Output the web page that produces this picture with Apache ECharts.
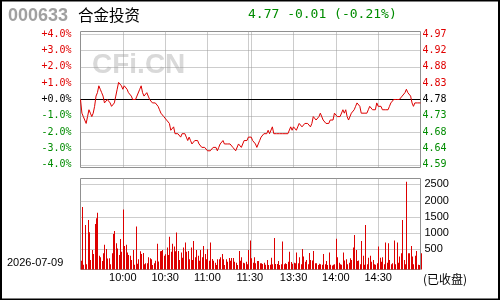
<!DOCTYPE html>
<html><head><meta charset="utf-8">
<script src="https://cdn.jsdelivr.net/npm/echarts@6/dist/echarts.min.js"></script>
<style>html,body{margin:0;padding:0;background:#fff}#c{width:500px;height:300px}</style>
</head><body><div id="c"></div>
<script>
const stockCode = '000633';
const stockName = '合金投资';
const quoteText = '4.77 -0.01 (-0.21%)';
const watermark = 'CFi.CN';
const tradeDate = '2026-07-09';
const statusText = '(已收盘)';
const prevClose = 4.78;
const pctTicks = [-4, -3, -2, -1, 0, 1, 2, 3, 4];
const volTicks = [500, 1000, 1500, 2000, 2500];
const timeTicks = ['10:00', '10:30', '11:00', '11:30', '13:30', '14:00', '14:30'];
const gridTimes = ['10:00', '10:30', '11:00', '11:29', '13:00', '13:30', '14:00', '14:30'];
const sessions = [['09:30', '11:30'], ['13:00', '15:00']];

const prices = [
4.78,4.74,4.73,4.72,4.71,4.73,4.75,4.74,4.73,4.74,
4.76,4.79,4.80,4.82,4.81,4.80,4.79,4.77,4.77,4.78,
4.78,4.77,4.76,4.76,4.77,4.79,4.81,4.83,4.83,4.82,
4.81,4.82,4.82,4.81,4.80,4.80,4.79,4.78,4.78,4.78,
4.79,4.79,4.81,4.82,4.80,4.79,4.79,4.80,4.79,4.78,
4.78,4.77,4.77,4.77,4.77,4.76,4.75,4.74,4.74,4.73,
4.73,4.72,4.72,4.71,4.69,4.69,4.70,4.68,4.68,4.68,
4.68,4.67,4.68,4.68,4.68,4.67,4.66,4.67,4.66,4.65,
4.65,4.66,4.66,4.66,4.65,4.65,4.64,4.64,4.64,4.64,
4.63,4.63,4.63,4.63,4.64,4.64,4.64,4.63,4.64,4.65,
4.65,4.66,4.65,4.65,4.65,4.65,4.65,4.65,4.64,4.64,
4.63,4.63,4.65,4.65,4.64,4.65,4.66,4.66,4.66,4.67,
4.67,4.67,4.66,4.66,4.65,4.64,4.65,4.66,4.67,4.67,
4.68,4.68,4.68,4.69,4.68,4.68,4.70,4.68,4.68,4.68,
4.68,4.68,4.68,4.68,4.68,4.68,4.68,4.68,4.68,4.70,
4.69,4.70,4.70,4.69,4.70,4.71,4.71,4.70,4.70,4.71,
4.71,4.71,4.71,4.70,4.71,4.73,4.73,4.72,4.72,4.73,
4.74,4.74,4.72,4.72,4.71,4.71,4.71,4.72,4.72,4.72,
4.74,4.74,4.73,4.73,4.73,4.73,4.75,4.74,4.75,4.73,
4.72,4.72,4.74,4.74,4.75,4.76,4.77,4.77,4.76,4.74,
4.74,4.74,4.74,4.74,4.75,4.76,4.76,4.75,4.75,4.75,
4.77,4.76,4.76,4.76,4.75,4.75,4.75,4.75,4.75,4.76,
4.77,4.77,4.78,4.78,4.78,4.78,4.78,4.78,4.79,4.79,
4.80,4.81,4.80,4.80,4.79,4.77,4.76,4.77,4.77,4.77,
4.77,4.77
];

const volumes = [
150,1800,30,1250,40,1400,1030,175,480,360,
1280,1460,1630,300,260,145,380,640,510,215,
225,40,380,975,1065,690,530,330,820,430,
1730,600,640,400,330,300,175,480,30,1200,
60,195,440,360,390,40,70,70,260,225,
195,20,70,150,670,130,440,450,480,300,
350,560,330,890,430,670,585,440,1015,450,
175,400,245,555,710,430,450,195,555,175,
760,260,480,300,150,480,260,605,360,195,
500,150,710,205,150,90,20,195,195,260,
360,195,20,195,120,235,150,235,235,120,
90,20,450,150,260,90,70,120,40,480,
770,225,90,255,70,145,145,70,70,50,
90,30,175,20,30,245,40,850,50,50,
145,20,40,740,40,70,50,120,430,110,
60,90,70,400,70,255,40,510,280,120,
175,40,390,175,155,450,70,70,20,60,
40,30,360,40,145,20,400,30,0,30,
40,830,255,90,40,30,400,155,195,40,
90,225,175,555,940,480,145,155,40,760,
300,30,1250,40,245,300,120,175,40,30,
70,585,245,120,255,40,710,90,690,175,
40,70,770,40,710,90,280,380,1400,175,
40,2580,380,380,605,280,40,300,450,30,
20,380
];

function buildTimes() {
  const out = [];
  sessions.forEach(function (s) {
    const a = s[0].split(':').map(Number), b = s[1].split(':').map(Number);
    for (let m = a[0] * 60 + a[1]; m <= b[0] * 60 + b[1]; m++) {
      const h = Math.floor(m / 60), mm = m % 60;
      out.push((h < 10 ? '0' : '') + h + ':' + (mm < 10 ? '0' : '') + mm);
    }
  });
  return out;
}
const times = buildTimes();

const RED = '#e00000', GREEN = '#008c00', LINE = '#dd0000';
const monoFont = 'DejaVu Sans Mono';
const vGridStyle = { color: '#9a9a9a', type: [1, 1], width: 1 };
const H_COLOR = '#9a9a9a';

const L = 80.5, W = 340;
const P_TOP = 31.5, P_H = 136, pctRange = 4.16;
const V_TOP = 178.5, V_H = 91, volMin = -120, volMax = 2680;

const chart = echarts.init(document.getElementById('c'), null, { renderer: 'canvas' });
const priceTicks = pctTicks.map(function (k) { return prevClose * (1 + k / 100); });
const priceGrid = priceTicks.filter(function (p, i) { return pctTicks[i] !== 0; });

// horizontal guide line drawn through the axis scale of the series' own grid
function hLineItem(params, api) {
  const y = Math.round(api.coord([0, api.value(0)])[1]) + 0.5;
  const cs = params.coordSys;
  return {
    type: 'line',
    shape: { x1: cs.x, y1: y, x2: cs.x + cs.width, y2: y },
    style: { stroke: H_COLOR, lineWidth: 1, lineDash: [1, 1] }
  };
}

const option = {
  animation: false,
  backgroundColor: '#fff',
  grid: [
    { left: L, top: P_TOP, width: W, height: P_H, show: true, borderColor: '#909090', borderWidth: 1, backgroundColor: 'transparent' },
    { left: L, top: V_TOP, width: W, height: V_H, show: true, borderColor: '#909090', borderWidth: 1, backgroundColor: 'transparent' }
  ],
  xAxis: [
    { type: 'category', gridIndex: 0, data: times, boundaryGap: false,
      axisLine: { show: false }, axisTick: { show: false }, axisLabel: { show: false },
      splitLine: { show: true, interval: function (i, v) { return gridTimes.indexOf(v) >= 0; }, lineStyle: vGridStyle } },
    { type: 'category', gridIndex: 1, data: times, boundaryGap: false,
      axisLine: { show: false }, axisTick: { show: false },
      axisLabel: { show: true, interval: function (i, v) { return timeTicks.indexOf(v) >= 0; },
        color: '#000', fontFamily: 'Liberation Sans', fontSize: 11, margin: 3 },
      splitLine: { show: true, interval: function (i, v) { return gridTimes.indexOf(v) >= 0; }, lineStyle: vGridStyle } }
  ],
  yAxis: [
    { type: 'value', gridIndex: 0, position: 'left', min: -pctRange, max: pctRange,
      axisLine: { show: false }, axisTick: { show: false }, splitLine: { show: false },
      axisLabel: { customValues: pctTicks, margin: 9, fontFamily: monoFont, fontSize: 10,
        formatter: function (v) { return (v >= 0 ? '+' : '') + Number(v).toFixed(1) + '%'; },
        color: function (v) { v = Number(v); return v > 0 ? RED : (v < 0 ? GREEN : '#000'); } } },
    { type: 'value', gridIndex: 0, position: 'right', min: prevClose * (1 - pctRange / 100), max: prevClose * (1 + pctRange / 100),
      axisLine: { show: false }, axisTick: { show: false }, splitLine: { show: false },
      axisLabel: { customValues: priceTicks, margin: 2, fontFamily: monoFont, fontSize: 10,
        formatter: function (v) { return Number(v).toFixed(2); },
        color: function (v) { v = Number(v); return v > prevClose + 1e-6 ? RED : (v < prevClose - 1e-6 ? GREEN : '#000'); } } },
    { type: 'value', gridIndex: 1, position: 'right', min: volMin, max: volMax,
      axisLine: { show: false }, axisTick: { show: false }, splitLine: { show: false },
      axisLabel: { customValues: volTicks, margin: 4, fontFamily: 'Liberation Sans', fontSize: 11, color: '#000',
        formatter: function (v) { return String(v); } } }
  ],
  series: [
    { type: 'custom', xAxisIndex: 0, yAxisIndex: 1, silent: true, z: 1,
      data: priceGrid.map(function (p) { return [p]; }), encode: { y: 0 },
      renderItem: hLineItem },
    { type: 'custom', xAxisIndex: 1, yAxisIndex: 2, silent: true, z: 1,
      data: volTicks.map(function (v) { return [v]; }), encode: { y: 0 },
      renderItem: hLineItem },
    { type: 'line', xAxisIndex: 0, yAxisIndex: 1, data: prices, showSymbol: false, symbol: 'none',
      lineStyle: { color: LINE, width: 1 }, silent: true, z: 3,
      markLine: { silent: true, symbol: ['none', 'none'], label: { show: false }, z: 2,
        lineStyle: { color: '#000', type: 'solid', width: 1 },
        data: [{ yAxis: prevClose }] } },
    { type: 'custom', xAxisIndex: 1, yAxisIndex: 2, silent: true, z: 3,
      data: volumes.map(function (v, i) { return [i, v]; }),
      encode: { x: 0, y: 1 },
      renderItem: function (params, api) {
        const i = api.value(0), v = api.value(1);
        const top = api.coord([i, v]);
        const bot = api.coord([i, volMin]);
        const x = Math.round(top[0]);
        return { type: 'rect', shape: { x: x, y: top[1], width: 1, height: bot[1] - top[1] }, style: { fill: LINE } };
      } }
  ],
  graphic: [
    { type: 'rect', silent: true, z: 100, shape: { x: 1, y: 0.5, width: 498, height: 299 },
      style: { fill: 'none', stroke: '#000', lineWidth: 2 } },
    { type: 'text', silent: true, style: { text: stockCode, x: 8, y: 16, font: 'bold 18px "Liberation Sans"', fill: '#a0a0a0', textVerticalAlign: 'middle' } },
    { type: 'text', silent: true, style: { text: stockName, x: 78, y: 15, font: '15.5px "Noto Sans CJK SC"', fill: '#000', textVerticalAlign: 'middle' } },
    { type: 'text', silent: true, style: { text: quoteText, x: 248, y: 15, font: '13px "DejaVu Sans Mono"', fill: GREEN, textVerticalAlign: 'middle' } },
    { type: 'text', silent: true, z: 0, style: { text: watermark, x: 92, y: 65, font: 'bold 28px "Liberation Sans"', fill: '#d9d9d9', textVerticalAlign: 'middle' } },
    { type: 'text', silent: true, style: { text: tradeDate, x: 7, y: 262.5, font: '11px "Liberation Sans"', fill: '#000', textVerticalAlign: 'middle' } },
    { type: 'text', silent: true, style: { text: statusText, x: 423, y: 279.5, font: '12px "Noto Sans CJK SC"', fill: '#000', textVerticalAlign: 'middle' } }
  ]
};
chart.setOption(option);
</script></body></html>
